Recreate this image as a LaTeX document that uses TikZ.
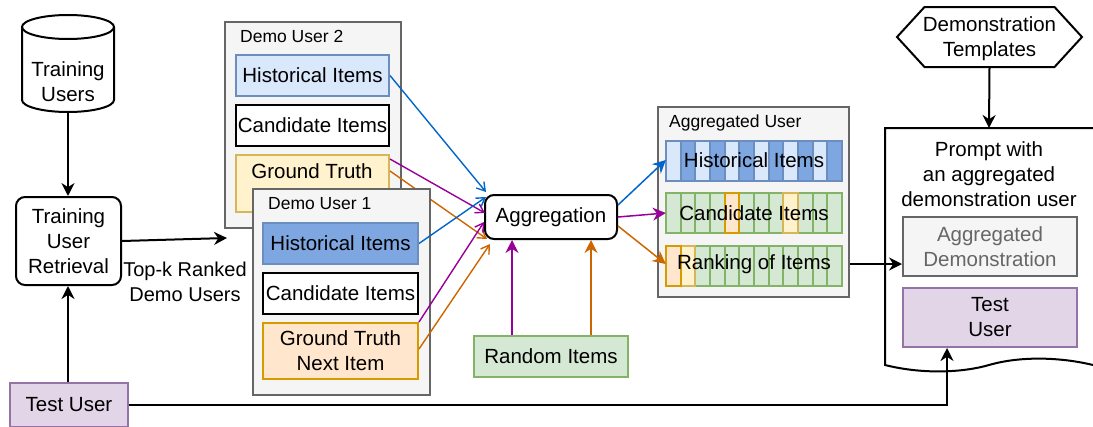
\documentclass[tikz,border=0pt]{standalone}
\usepackage{fontspec}
\setmainfont{Liberation Sans}
\usetikzlibrary{arrows.meta,shapes.symbols}

\definecolor{bluefill}{HTML}{DAE8FC}
\definecolor{bluedark}{HTML}{7EA6E0}
\definecolor{blueline}{HTML}{6C8EBF}
\definecolor{greenfill}{HTML}{D5E8D4}
\definecolor{greenline}{HTML}{82B366}
\definecolor{yellowfill}{HTML}{FFF2CC}
\definecolor{yellowline}{HTML}{D6B656}
\definecolor{orangefill}{HTML}{FFE6CC}
\definecolor{orangeline}{HTML}{D79B00}
\definecolor{purplefill}{HTML}{E1D5E7}
\definecolor{purpleline}{HTML}{9673A6}
\definecolor{panelfill}{HTML}{F5F5F5}
\definecolor{panelline}{HTML}{666666}
\definecolor{arrowblue}{HTML}{0066CC}
\definecolor{arrowpurple}{HTML}{990099}
\definecolor{arroworange}{HTML}{CC6600}

\tikzset{
    txt/.style={font=\fontsize{20.5}{25}\selectfont, align=center, inner sep=0pt},
    smalltxt/.style={font=\fontsize{17.5}{21}\selectfont, inner sep=0pt},
    box/.style={txt, draw, line width=2pt, minimum width=#1},
    box/.default=153pt,
    roundbox/.style={txt, draw, line width=2pt, rounded corners=9pt},
    panel/.style={draw=panelline, fill=panelfill, line width=2pt, minimum width=176pt, minimum height=206pt, inner sep=0pt},
    cell/.style={draw=#1, line width=2pt, minimum width=14.67pt, minimum height=40pt, inner sep=0pt},
    flow/.style={-{Stealth[length=13pt,width=13pt]}, line width=2pt},
    thin flow/.style={-{Straight Barb[length=8pt,width=10pt]}, line width=1.4pt},
    out flow/.style={-{Stealth[length=13pt,width=13pt]}, line width=1.5pt},
}

\begin{document}
\begin{tikzpicture}[x=1pt,y=-1pt]
    \useasboundingbox (0,0) rectangle (1093,426);

    % Left column
    \draw[line width=2pt] (68,27) ellipse [x radius=46pt, y radius=12pt];
    \draw[line width=2pt] (22,27) -- (22,100) arc[start angle=180, end angle=360, x radius=46pt, y radius=12pt] -- (114,27);
    \coordinate (usersbottom) at (68,112);
    \node[txt] (userstxt) at (68,82) {Training\\Users};
    \node[roundbox, minimum width=105pt, minimum height=88pt] (retrieval) at (68.5,241) {Training\\User\\Retrieval};
    \node[box=118pt, draw=purpleline, fill=purplefill, minimum height=44pt] (testuser) at (69,404.5) {Test User};
    \node[txt, font=\fontsize{20}{25}\selectfont] (topk) at (185,282) {Top-k Ranked\\Demo Users};

    % Demo user 2
    \node[panel] (paneltwo) at (313,125) {};
    \node[smalltxt, anchor=west] (titletwo) at (240,36) {Demo User 2};
    \node[box, draw=blueline, fill=bluefill, minimum height=41pt] (histtwo) at (312.5,75.5) {Historical Items};
    \node[box, fill=white, minimum height=41pt] (candtwo) at (312.5,125.5) {Candidate Items};
    \node[box, draw=yellowline, fill=yellowfill, minimum height=57pt] (truthtwo) at (312.5,183.5) {};
    \node[txt] (truthtwotxt) at (312,171) {Ground Truth};

    \node[roundbox, fill=white, minimum width=132pt, minimum height=44pt] (agg) at (551,217) {Aggregation};

    % this one passes behind the panel of demo user 1
    \draw[thin flow, arroworange] ([yshift=-17pt]truthtwo.north east) -- ([xshift=3pt,yshift=1pt]agg.south west);

    % Demo user 1
    \node[panel, minimum width=177pt] (panelone) at (341.5,292) {};
    \node[smalltxt, anchor=west] (titleone) at (268,204) {Demo User 1};
    \node[box=155pt, draw=blueline, fill=bluedark, minimum height=41pt] (histone) at (340.5,243.5) {Historical Items};
    \node[box=155pt, fill=white, minimum height=41pt] (candone) at (340.5,293.5) {Candidate Items};
    \node[box=155pt, draw=orangeline, fill=orangefill, minimum height=56pt] (truthone) at (340.5,351) {Ground Truth\\Next Item};

    \node[box, draw=greenline, fill=greenfill, minimum width=154pt, minimum height=41pt] (random) at (551,356.5) {Random Items};

    % Aggregated user
    \node[panel, minimum width=191pt, minimum height=190pt] (panelagg) at (753.5,202) {};
    \node[smalltxt, anchor=west] (titleagg) at (669,123) {Aggregated User};
    \foreach \i in {1,...,12} {
        % every second cell of the top row is the dark one
        \ifodd\i
            \node[cell=blueline, fill=bluefill] (histcell\i) at ({666+14.67*(\i-0.5)},161) {};
        \else
            \node[cell=blueline, fill=bluedark] (histcell\i) at ({666+14.67*(\i-0.5)},161) {};
        \fi
        \node[cell=greenline, fill=greenfill] (candcell\i) at ({666+14.67*(\i-0.5)},212.5) {};
        \node[cell=greenline, fill=greenfill] (rankcell\i) at ({666+14.67*(\i-0.5)},265.5) {};
    }
    \node[cell=orangeline, fill=orangefill] (candcell5) at ({666+14.67*4.5},212.5) {};
    \node[cell=yellowline, fill=yellowfill] (candcell9) at ({666+14.67*8.5},212.5) {};
    \node[cell=yellowline, fill=yellowfill] (rankcell2) at ({666+14.67*1.5},265.5) {};
    \node[cell=orangeline, fill=orangefill] (rankcell1) at ({666+14.67*0.5},265.5) {};
    \node[txt, minimum width=176pt, minimum height=41pt] (rowhist) at (754,160) {Historical Items};
    \node[txt, minimum width=176pt, minimum height=41pt] (rowcand) at (754,213) {Candidate Items};
    \node[txt, minimum width=176pt, minimum height=41pt] (rowrank) at (754,264) {Ranking of Items};

    % Prompt
    \node[txt, draw, line width=2pt, signal, signal to=west and east, signal pointer angle=95, minimum width=185pt, minimum height=60pt] (templates) at (989.5,37) {};
    \node[txt] (templatestxt) at (989.5,39) {Demonstration\\Templates};
    \coordinate (prompttop) at (989,128);
    \draw[line width=2pt] (1093,128) -- (885,128) -- (885,365)
        .. controls (925,375) and (965,372) .. (989,365)
        .. controls (1020,356) and (1060,357) .. (1093,365);
    \node[txt] (prompttxt) at (989,174.5) {Prompt with\\an aggregated\\demonstration user};
    \node[box=174pt, draw=panelline, fill=panelfill, text=panelline, minimum height=59pt] (aggdemo) at (990,246.5) {Aggregated\\Demonstration};
    \node[box=174pt, draw=purpleline, fill=purplefill, minimum height=59pt] (testbox) at (990,317.5) {Test\\User};

    % Left connectors
    \draw[flow] (usersbottom) -- (retrieval.north -| usersbottom);
    \draw[flow] (testuser.north -| usersbottom) -- (retrieval.south -| usersbottom);
    \draw[flow] (retrieval.east) -- ([xshift=3pt,yshift=-9pt]paneltwo.south west);

    % Into the aggregation
    \draw[thin flow, arrowblue] (histtwo.east) -- ([xshift=2pt,yshift=2pt]agg.north west);
    \draw[thin flow, arrowpurple] ([yshift=-5pt]truthtwo.north east) -- ([xshift=1pt,yshift=4pt]agg.west);
    \draw[thin flow, arrowblue] (histone.east) -- ([xshift=2pt,yshift=-3pt]agg.north west);
    \draw[thin flow, arrowpurple] (truthone.north east) -- ([yshift=-5pt]agg.west);
    \draw[thin flow, arroworange] ([yshift=-27pt]truthone.north east) -- ([xshift=6pt,yshift=-4pt]agg.south west);
    \draw[out flow, arrowpurple] (random.north -| 512,0) -- (agg.south -| 512,0);
    \draw[out flow, arroworange] (random.north -| 591,0) -- (agg.south -| 591,0);

    % Out of the aggregation
    \draw[out flow, arrowblue] ([yshift=12pt]agg.east) -- (rowhist.west);
    \draw[out flow, arrowpurple] (agg.east) -- (rowcand.west);
    \draw[out flow, arroworange] ([yshift=-9pt]agg.east) -- (rowrank.west);

    % Into the prompt
    \draw[flow] (panelagg.east |- rowrank) -- (aggdemo.west |- rowrank);
    \draw[flow] (templates.south) -- (prompttop);
    \draw[flow] (testuser.east) -| (testbox.south -| 947,0);
\end{tikzpicture}
\end{document}
